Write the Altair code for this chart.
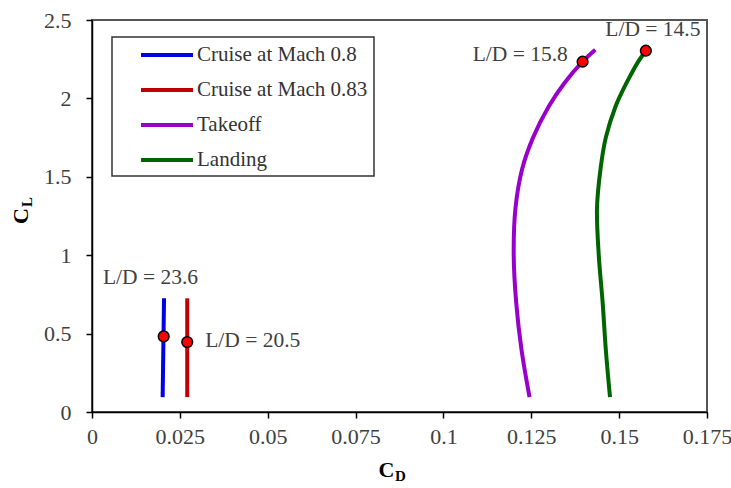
import altair as alt
import pandas as pd

# Drag polar: lift coefficient vs drag coefficient for four flight conditions
series_names = ["Cruise at Mach 0.8", "Cruise at Mach 0.83", "Takeoff", "Landing"]
series_colors = ["#0000E6", "#C00000", "#9900CC", "#006400"]

cruise08_cl = [0.095, 0.725]
cruise08_cd = [0.0201, 0.0205]

cruise083_cl = [0.095, 0.725]
cruise083_cd = [0.0271, 0.0271]

takeoff_cl = [0.095, 0.40, 0.70, 1.00, 1.30, 1.55, 1.75, 1.95, 2.10, 2.234, 2.31]
takeoff_cd = [0.1245, 0.1222, 0.1207, 0.1200, 0.1205, 0.1224, 0.1255, 0.1300, 0.1345, 0.1396, 0.1432]

landing_cl = [0.095, 0.40, 0.70, 1.00, 1.30, 1.55, 1.75, 1.95, 2.05, 2.15, 2.23, 2.304]
landing_cd = [0.1474, 0.1462, 0.1453, 0.1442, 0.1437, 0.1447, 0.1462, 0.1490, 0.1510, 0.1533, 0.1553, 0.1576]

# Maximum L/D operating points
point_cd = [0.0204, 0.0271, 0.1396, 0.1576]
point_cl = [0.482, 0.446, 2.234, 2.304]

# L/D annotations
label_text = ["L/D = 23.6", "L/D = 20.5", "L/D = 15.8", "L/D = 14.5"]
label_cd = [0.01665, 0.0322, 0.1354, 0.1596]
label_cl = [0.852, 0.450, 2.277, 2.436]
label_align = ["center", "left", "right", "center"]

x_ticks = [0, 0.025, 0.05, 0.075, 0.1, 0.125, 0.15, 0.175]
y_ticks = [0, 0.5, 1, 1.5, 2, 2.5]

FONT = "Liberation Serif, Times New Roman, Times, serif"

rows = []
for name, cls, cds in [
    (series_names[0], cruise08_cl, cruise08_cd),
    (series_names[1], cruise083_cl, cruise083_cd),
    (series_names[2], takeoff_cl, takeoff_cd),
    (series_names[3], landing_cl, landing_cd),
]:
    for cl, cd in zip(cls, cds):
        rows.append({"series": name, "cl": cl, "cd": cd})
curves = pd.DataFrame(rows)
points = pd.DataFrame({"cd": point_cd, "cl": point_cl})
labels = pd.DataFrame({"text": label_text, "cd": label_cd, "cl": label_cl, "align": label_align})

x_enc = alt.X(
    "cd:Q",
    scale=alt.Scale(domain=[0, 0.175], nice=False, zero=False),
    axis=alt.Axis(
        values=x_ticks, format=".3~f", title=None, grid=False,
        tickSize=6, tickColor="black", tickWidth=1.5,
        domainColor="black", domainWidth=1.5,
        labelFont=FONT, labelFontSize=22, labelColor="#404040",
        labelPadding=8, labelFlush=False, labelOverlap=False,
    ),
)
y_enc = alt.Y(
    "cl:Q",
    scale=alt.Scale(domain=[0, 2.5], nice=False, zero=False),
    axis=alt.Axis(
        values=y_ticks, format=".1~f", title=None, grid=False,
        tickSize=6, tickColor="black", tickWidth=1.5,
        domainColor="black", domainWidth=1.5,
        labelFont=FONT, labelFontSize=22, labelColor="#404040",
        labelPadding=15, labelFlush=False, labelOverlap=False,
    ),
)

# Legend line swatches: a custom horizontal path, scaled by sqrt(size)/2
lines = alt.Chart(curves).mark_line(strokeWidth=4, interpolate="catmull-rom").encode(
    x=x_enc,
    y=y_enc,
    order=alt.Order("cl:Q"),
    color=alt.Color(
        "series:N",
        scale=alt.Scale(domain=series_names, range=series_colors),
        legend=alt.Legend(
            title=None, orient="none", legendX=20, legendY=17,
            symbolType="M-2.6,0H2.6", symbolSize=400, symbolStrokeWidth=4,
            labelFont=FONT, labelFontSize=21, labelColor="#333333", labelLimit=0,
            strokeColor="#333333", fillColor="white", padding=6,
            symbolOffset=37, labelOffset=18, rowPadding=13,
        ),
    ),
)

dots = alt.Chart(points).mark_point(
    filled=True, fill="#FF0000", stroke="black", strokeWidth=1.5, size=115, opacity=1
).encode(x="cd:Q", y="cl:Q")

text_layers = []
for a in ["left", "center", "right"]:
    text_layers.append(
        alt.Chart(labels).transform_filter(alt.datum.align == a).mark_text(
            font=FONT, fontSize=21.5, color="#404040", align=a, baseline="middle"
        ).encode(x="cd:Q", y="cl:Q", text="text:N")
    )

blank = alt.Data(values=[{}])
cd_main = alt.Chart(blank).mark_text(
    text="C", font=FONT, fontSize=22, fontWeight="bold", color="black", align="center", baseline="middle"
).encode(x=alt.value(294.5), y=alt.value(450))
cd_sub = alt.Chart(blank).mark_text(
    text="D", font=FONT, fontSize=15, fontWeight="bold", color="black", align="center", baseline="middle"
).encode(x=alt.value(308.5), y=alt.value(456))
cl_main = alt.Chart(blank).mark_text(
    text="C", font=FONT, fontSize=22, fontWeight="bold", color="black", align="center", baseline="middle", angle=270
).encode(x=alt.value(-71), y=alt.value(196))
cl_sub = alt.Chart(blank).mark_text(
    text="L", font=FONT, fontSize=15, fontWeight="bold", color="black", align="center", baseline="middle", angle=270
).encode(x=alt.value(-65), y=alt.value(182))

chart = alt.layer(lines, dots, *text_layers, cd_main, cd_sub, cl_main, cl_sub).properties(
    width=615,
    height=392,
    padding={"left": 92, "top": 20, "right": 24, "bottom": 76},
    autosize=alt.AutoSizeParams(type="none"),
    background="white",
).configure_view(
    stroke="#555555", strokeWidth=2
).configure_legend(
    strokeWidth=1.5
)

chart.save("out.html", embed_options={"renderer": "svg", "actions": False})
